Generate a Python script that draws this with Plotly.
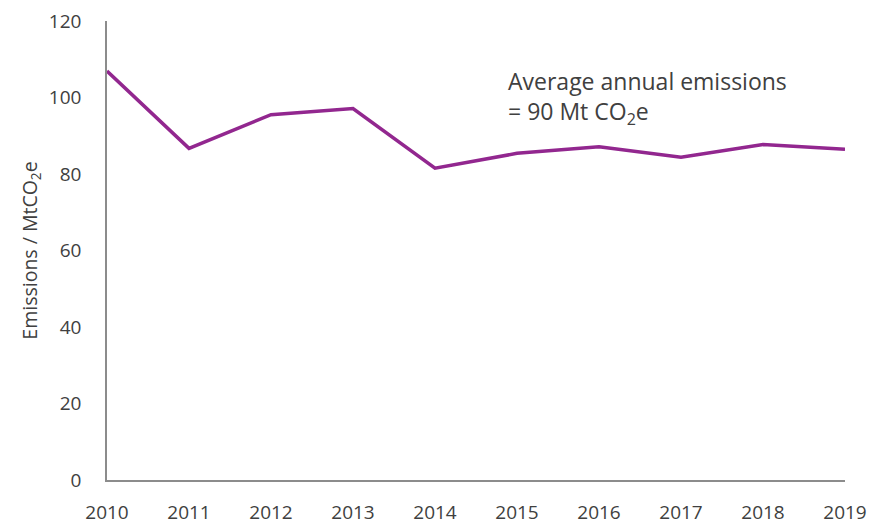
import plotly.graph_objects as go

years = [2010, 2011, 2012, 2013, 2014, 2015, 2016, 2017, 2018, 2019]
emissions = [106.9, 86.7, 95.5, 97.1, 81.5, 85.4, 87.1, 84.4, 87.7, 86.5]
y_ticks = [0, 20, 40, 60, 80, 100, 120]

FONT = "Open Sans"
TXT = "#404040"

fig = go.Figure()
fig.add_trace(go.Scatter(
    x=years, y=emissions, mode="lines",
    line=dict(color="#92278F", width=3.5),
    showlegend=False, cliponaxis=False,
))

fig.update_layout(
    width=871, height=516,
    margin=dict(l=99, r=34, t=13, b=44),
    paper_bgcolor="white", plot_bgcolor="white",
    font=dict(family=FONT, size=19, color=TXT),
    xaxis=dict(
        range=[2010, 2019], tickvals=years, ticktext=[str(y) for y in years],
        showgrid=False, zeroline=False, showline=True, linecolor="#8c8c8c", linewidth=1.5,
        ticks="", ticklabelstandoff=14, tickfont=dict(size=19, color=TXT),
        automargin=False, ticklabeloverflow="allow",
    ),
    yaxis=dict(
        range=[0, 120], tickvals=y_ticks,
        showgrid=False, zeroline=False, showline=True, linecolor="#8c8c8c", linewidth=1.5,
        ticks="", ticklabelstandoff=20, tickfont=dict(size=19, color=TXT),
        title=dict(text="Emissions / MtCO<sub>2</sub>e", font=dict(size=19.5, color=TXT), standoff=6),
        automargin=False, ticklabeloverflow="allow",
    ),
    annotations=[dict(
        x=2010, y=100, xref="x", yref="y", xanchor="left", yanchor="middle",
        xshift=399,
        text="Average annual emissions<br>= 90 Mt CO<sub>2</sub>e",
        showarrow=False, align="left",
        font=dict(family=FONT, size=23, color=TXT),
    )],
)

fig.write_html("out.html")
